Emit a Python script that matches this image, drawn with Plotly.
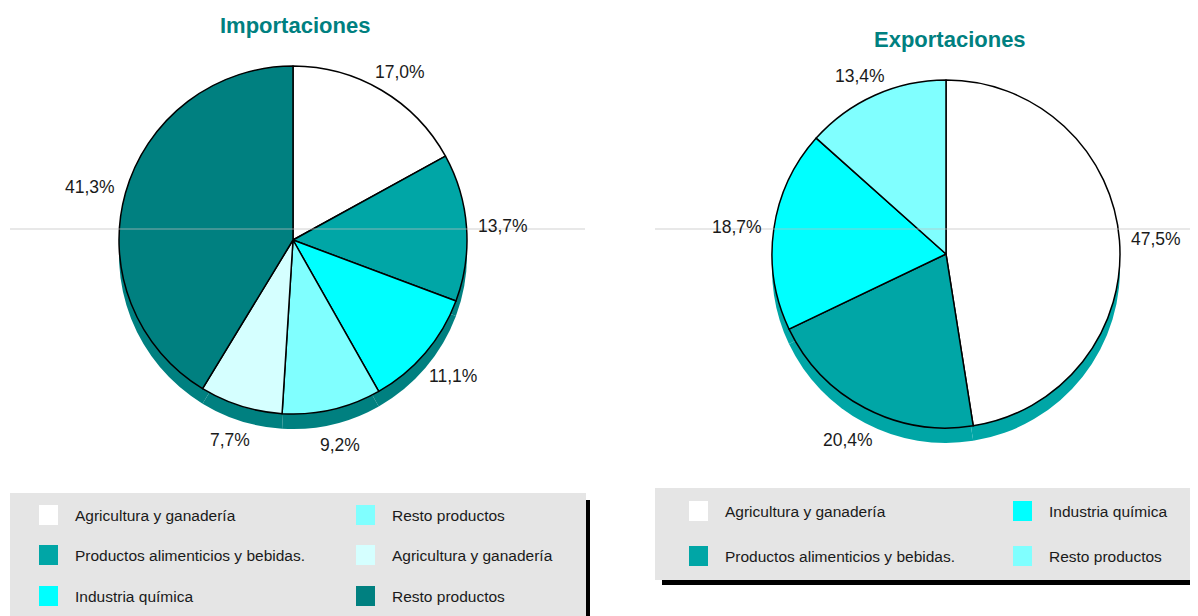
import math
import plotly.graph_objects as go

# the page places the plot 8px in from the top-left corner
OFF = 8
W, H = 1198 - OFF, 616 - OFF

# ---------------- data ----------------
imp_categories = ["Agricultura y ganadería", "Productos alimenticios y bebidas.", "Industria química",
                  "Resto productos", "Agricultura y ganadería", "Resto productos"]
imp_values = [17.0, 13.7, 11.1, 9.2, 7.7, 41.3]
imp_colors = ["#FFFFFF", "#00A6A6", "#00FFFF", "#80FFFF", "#D5FFFF", "#008080"]

exp_categories = ["Agricultura y ganadería", "Productos alimenticios y bebidas.", "Industria química",
                  "Resto productos"]
exp_values = [47.5, 20.4, 18.7, 13.4]
exp_colors = ["#FFFFFF", "#00A6A6", "#00FFFF", "#80FFFF"]

FONT = "Liberation Sans, Arial, sans-serif"
DEPTH = 15


def px(x):
    return (x - OFF) / W


def py(y):
    return 1 - (y - OFF) / H


def pie_domain(cx, cy, r, dy=0):
    return dict(x=[px(cx - r), px(cx + r)], y=[py(cy + dy + r), py(cy + dy - r)])


fig = go.Figure()
shapes = []
annotations = []

charts = [
    dict(key="imp", vals=imp_values, cols=imp_colors, cx=293, cy=240, r=174, shadow="#008080"),
    dict(key="exp", vals=exp_values, cols=exp_colors, cx=946, cy=254, r=174, shadow="#00A6A6"),
]

for c in charts:
    n = len(c["vals"])
    # extruded "side" of the 3-D pie
    fig.add_trace(go.Pie(
        values=c["vals"], labels=[f"{c['key']}_side_{i}" for i in range(n)],
        sort=False, direction="clockwise",
        marker=dict(colors=[c["shadow"]] * n, line=dict(width=0)),
        textinfo="none", hoverinfo="skip", showlegend=False,
        domain=pie_domain(c["cx"], c["cy"], c["r"], dy=DEPTH),
    ))
    fig.add_trace(go.Pie(
        values=c["vals"], labels=[f"{c['key']}_top_{i}" for i in range(n)],
        sort=False, direction="clockwise",
        marker=dict(colors=c["cols"], line=dict(color="#000000", width=1.5)),
        textinfo="none", hoverinfo="skip", showlegend=False,
        domain=pie_domain(c["cx"], c["cy"], c["r"]),
    ))
    # percentage labels placed outside each slice, at the slice's mid-angle
    total = sum(c["vals"])
    cum = 0.0
    hw, hh, gap = 25, 9, 12
    for v in c["vals"]:
        mid = (cum + v / 2) / total * 2 * math.pi
        cum += v
        s, co = math.sin(mid), math.cos(mid)
        d = c["r"] + gap
        lx = c["cx"] + d * s + hw * s
        ly = c["cy"] - d * co - hh * co + (DEPTH * -co if co < 0 else 0)
        annotations.append(dict(text=f"{v:.1f}%".replace(".", ","), x=px(lx), y=py(ly),
                                xref="paper", yref="paper", showarrow=False,
                                xanchor="center", yanchor="middle",
                                font=dict(family=FONT, size=17.5, color="#1a1a1a")))

# thin horizontal grey lines crossing each chart
for x0, x1 in [(10, 585), (655, 1198)]:
    shapes.append(dict(type="line", xref="paper", yref="paper", x0=px(x0), x1=px(x1), y0=py(229), y1=py(229),
                       line=dict(color="rgba(190,190,190,0.7)", width=1), layer="above"))

# titles
annotations.append(dict(text="<b>Importaciones</b>", x=px(295), y=py(25), xref="paper", yref="paper",
                        xanchor="center", yanchor="middle",
                        showarrow=False, font=dict(family=FONT, size=22, color="#008080")))
annotations.append(dict(text="<b>Exportaciones</b>", x=px(950), y=py(40), xref="paper", yref="paper",
                        xanchor="center", yanchor="middle",
                        showarrow=False, font=dict(family=FONT, size=22, color="#008080")))

# legend boxes
shapes.append(dict(type="rect", xref="paper", yref="paper", x0=px(586), x1=px(590), y0=py(616), y1=py(500),
                   fillcolor="#000000", line=dict(width=0)))
shapes.append(dict(type="rect", xref="paper", yref="paper", x0=px(10), x1=px(586), y0=py(616), y1=py(493),
                   fillcolor="#E5E5E5", line=dict(width=0)))
shapes.append(dict(type="rect", xref="paper", yref="paper", x0=px(662), x1=px(1198), y0=py(585), y1=py(579),
                   fillcolor="#000000", line=dict(width=0)))
shapes.append(dict(type="rect", xref="paper", yref="paper", x0=px(655), x1=px(1198), y0=py(580), y1=py(488),
                   fillcolor="#E5E5E5", line=dict(width=0)))


def legend_items(cats, cols, col_x, row_y):
    n_rows = len(row_y)
    for i, (cat, col) in enumerate(zip(cats, cols)):
        cx = col_x[i // n_rows]
        cy = row_y[i % n_rows]
        shapes.append(dict(type="rect", xref="paper", yref="paper", x0=px(cx), x1=px(cx + 19),
                           y0=py(cy + 10), y1=py(cy - 10), fillcolor=col, line=dict(width=0)))
        annotations.append(dict(text=cat, x=px(cx + 34), y=py(cy), xref="paper", yref="paper",
                                xanchor="left", yanchor="middle", showarrow=False,
                                font=dict(family=FONT, size=15.5, color="#1a1a1a")))


legend_items(imp_categories, imp_colors, [39, 356], [515, 555, 596])
legend_items(exp_categories, exp_colors, [689, 1013], [511, 556])

fig.update_layout(
    width=W, height=H, margin=dict(l=0, r=0, t=0, b=0),
    paper_bgcolor="#FFFFFF", plot_bgcolor="#FFFFFF",
    separators=",.", showlegend=False,
    shapes=shapes, annotations=annotations,
    font=dict(family=FONT),
)

fig.write_html("out.html")
